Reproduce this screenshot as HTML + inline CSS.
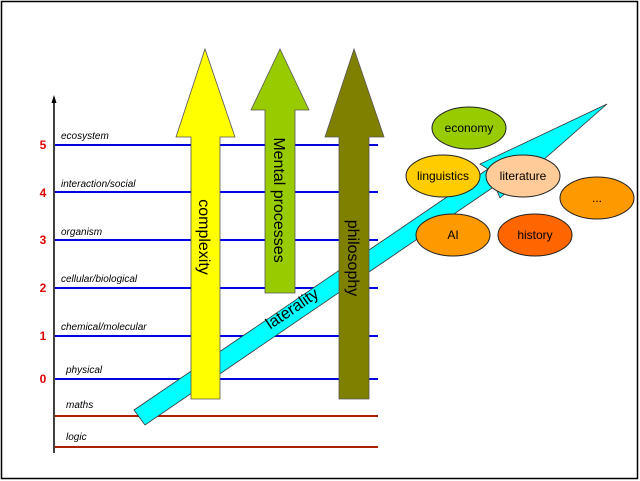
<!DOCTYPE html>
<html><head><style>body{margin:0;background:#fff}svg{display:block}</style></head><body>
<svg width="640" height="481" viewBox="0 0 640 481" xmlns="http://www.w3.org/2000/svg" font-family="Liberation Sans, sans-serif">
<rect x="1.5" y="1.5" width="636" height="477" fill="#fff" stroke="#000" stroke-width="1.5"/>
<g stroke="#0000dd" stroke-width="2">
<line x1="55" y1="145" x2="378" y2="145"/><line x1="55" y1="192" x2="378" y2="192"/>
<line x1="55" y1="240" x2="378" y2="240"/><line x1="55" y1="288" x2="378" y2="288"/>
<line x1="55" y1="336" x2="378" y2="336"/><line x1="55" y1="379" x2="378" y2="379"/>
</g>
<g stroke="#aa2200" stroke-width="2">
<line x1="55" y1="416" x2="378" y2="416"/><line x1="55" y1="447" x2="378" y2="447"/>
</g>
<line x1="54" y1="100" x2="54" y2="453" stroke="#000" stroke-width="1.5"/>
<polygon points="54,95 51.5,103 56.5,103" fill="#000"/>
<g fill="#dd0000" font-size="12" font-weight="bold" text-anchor="middle">
<text x="43" y="149">5</text><text x="43" y="197">4</text><text x="43" y="244">3</text>
<text x="43" y="292">2</text><text x="43" y="340">1</text><text x="43" y="383">0</text>
</g>
<g font-size="10" font-style="italic" fill="#000">
<text x="61" y="139">ecosystem</text><text x="61" y="187">interaction/social</text>
<text x="61" y="235">organism</text><text x="61" y="282">cellular/biological</text>
<text x="61" y="330">chemical/molecular</text><text x="66" y="373">physical</text>
<text x="66" y="408">maths</text><text x="66" y="440">logic</text>
</g>
<polygon points="134,410 488,169 480,164 607,104 500,198 495,186 145,425" fill="#00ffff" stroke="#333" stroke-width="0.8"/>
<text transform="translate(295,313) rotate(-34)" font-size="16" text-anchor="middle" fill="#000">laterality</text>
<polygon points="205,49 235,137 220,137 220,399 191,399 191,137 176,137" fill="#ffff00" stroke="#555" stroke-width="0.8"/>
<text transform="translate(199,237) rotate(90)" font-size="16" text-anchor="middle">complexity</text>
<polygon points="280,49 309,110 295,110 295,293 265,293 265,110 251,110" fill="#99cc00" stroke="#555" stroke-width="0.8"/>
<text transform="translate(274,200) rotate(90)" font-size="16" text-anchor="middle">Mental processes</text>
<polygon points="354,49 384,137 369,137 369,399 339,399 339,137 325,137" fill="#808000" stroke="#555" stroke-width="0.8"/>
<text transform="translate(348,258) rotate(90)" font-size="16" text-anchor="middle">philosophy</text>
<g stroke="#222" stroke-width="1" font-size="12" text-anchor="middle">
<ellipse cx="469" cy="128" rx="37" ry="21" fill="#99cc00"/><text x="469" y="132" stroke="none">economy</text>
<ellipse cx="443" cy="176" rx="37" ry="21" fill="#ffcc00"/><text x="443" y="180" stroke="none">linguistics</text>
<ellipse cx="523" cy="176" rx="37" ry="21" fill="#ffcc99"/><text x="523" y="180" stroke="none">literature</text>
<ellipse cx="597" cy="198" rx="37" ry="21" fill="#ff9900"/><text x="597" y="202" stroke="none">...</text>
<ellipse cx="453" cy="235" rx="37" ry="21" fill="#ff9900"/><text x="453" y="239" stroke="none">AI</text>
<ellipse cx="535" cy="235" rx="37" ry="21" fill="#ff6600"/><text x="535" y="239" stroke="none">history</text>
</g>
</svg>
</body></html>
